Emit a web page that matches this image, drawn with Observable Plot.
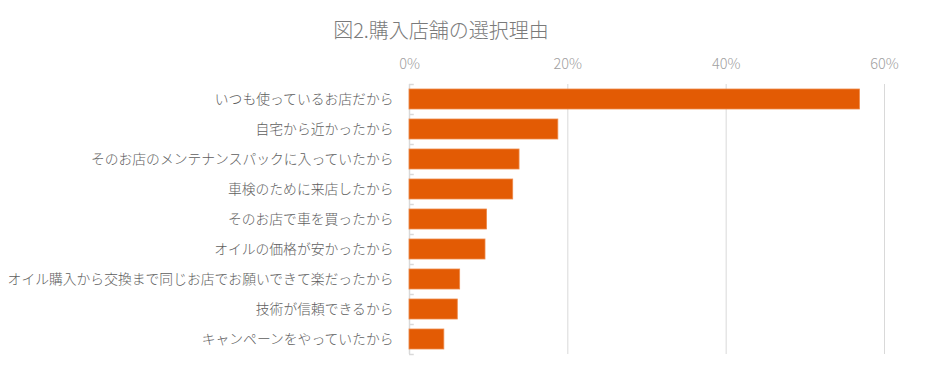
<!DOCTYPE html>
<html>
<head>
<meta charset="utf-8">
<script src="https://cdn.jsdelivr.net/npm/d3@7"></script>
<script src="https://cdn.jsdelivr.net/npm/@observablehq/plot@0.6"></script>
<style>
  html, body { margin: 0; padding: 0; background: #fff; }
  #title {
    width: 882px; height: 40px; box-sizing: border-box; padding-top: 20px;
    line-height: 20px; text-align: center; font-size: 20px; color: #7a7a7a;
    font-family: "Noto Sans CJK JP", sans-serif; font-weight: 300;
  }
  #chart svg text { font-weight: 300; }
</style>
</head>
<body>
<div id="title">図2.購入店舗の選択理由</div>
<div id="chart"></div>
<script>
const categories = [
  "いつも使っているお店だから",
  "自宅から近かったから",
  "そのお店のメンテナンスパックに入っていたから",
  "車検のために来店したから",
  "そのお店で車を買ったから",
  "オイルの価格が安かったから",
  "オイル購入から交換まで同じお店でお願いできて楽だったから",
  "技術が信頼できるから",
  "キャンペーンをやっていたから"
];
const values = [56.9, 18.8, 13.9, 13.1, 9.8, 9.6, 6.4, 6.1, 4.4];
const xTicks = [0, 20, 40, 60];

const data = categories.map((c, i) => ({category: c, value: values[i]}));
const font = '"Noto Sans CJK JP", sans-serif';

const chart = Plot.plot({
  width: 940,
  height: 335,
  marginTop: 44,
  marginBottom: 21,
  marginLeft: 409,
  marginRight: 56,
  style: {fontFamily: font, background: "#fff"},
  x: {domain: [0, 60]},
  y: {domain: categories, paddingInner: 1/3, paddingOuter: 1/6, align: 0.5},
  marks: [
    Plot.ruleX(xTicks.slice(1), {stroke: "#d9d9d9", strokeWidth: 1}),
    Plot.ruleX([0], {stroke: "#d9d9d9", strokeWidth: 1.5}),
    Plot.ruleY(categories, {y: d => d, dy: -15, x1: 0, x2: 0.6, stroke: "#d9d9d9", strokeWidth: 1.5}),
    Plot.ruleY(categories.slice(-1), {y: d => d, dy: 15, x1: 0, x2: 0.6, stroke: "#d9d9d9", strokeWidth: 1.5}),
    Plot.barX(data, {y: "category", x: "value", fill: "#E35B04", stroke: "#EE8a4a", strokeWidth: 0.8}),
    Plot.axisX({
      anchor: "top", ticks: xTicks, tickSize: 0, tickPadding: 16,
      tickFormat: d => d + "%", fontSize: 14.5, fill: "#a0a0a0", label: null
    }),
    Plot.axisY({
      tickSize: 0, tickPadding: 16, fontSize: 13.8, fill: "#5e5e5e", label: null
    })
  ]
});
document.getElementById("chart").appendChild(chart);
</script>
</body>
</html>
